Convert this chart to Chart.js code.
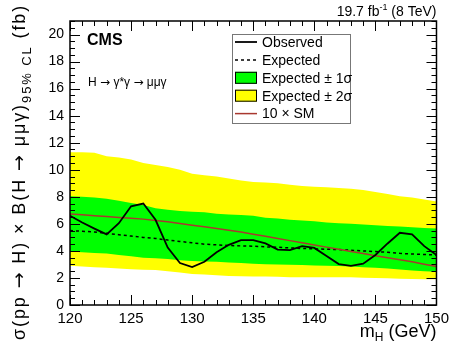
<!DOCTYPE html>
<html>
<head>
<meta charset="utf-8">
<script src="https://cdn.jsdelivr.net/npm/chart.js@4/dist/chart.umd.min.js"></script>
<style>
  html, body { margin: 0; padding: 0; background: #fff; }
  #wrap { width: 454px; height: 344px; position: relative; }
</style>
</head>
<body>
<div id="wrap"><canvas id="limitChart"></canvas></div>
<script>
// Higgs mass points (GeV)
const masses = [120,121,122,123,124,125,126,127,128,129,130,131,132,133,134,135,136,137,138,139,140,141,142,143,144,145,146,147,148,149,150];

// 95% CL limits (fb)
const observed = [6.6,6.1,5.65,5.22,6.05,7.3,7.5,6.3,4.25,3.1,2.8,3.2,3.9,4.45,4.8,4.8,4.55,4.1,4.06,4.35,4.22,3.62,3.03,2.9,3.05,3.7,4.55,5.34,5.22,4.35,3.69];
const expected = [5.5,5.45,5.4,5.3,5.2,5.1,5.0,4.92,4.8,4.7,4.6,4.5,4.45,4.4,4.37,4.35,4.3,4.27,4.22,4.18,4.15,4.12,4.1,4.05,4.0,3.95,3.9,3.82,3.77,3.73,3.7];
const oneSigmaUp = [8.04,8.0,7.95,7.85,7.7,7.55,7.4,7.15,7.05,6.95,6.9,6.85,6.75,6.7,6.65,6.6,6.45,6.4,6.3,6.25,6.2,6.1,6.05,6.0,5.95,5.9,5.85,5.8,5.75,5.7,5.65];
const oneSigmaDown = [3.95,3.9,3.85,3.8,3.7,3.6,3.5,3.45,3.4,3.3,3.25,3.22,3.2,3.15,3.1,3.05,3.02,3.0,2.97,2.95,2.92,2.9,2.88,2.85,2.8,2.75,2.7,2.62,2.55,2.5,2.46];
const twoSigmaUp = [11.3,11.3,11.25,11.0,10.9,10.75,10.5,10.35,10.2,10.0,9.7,9.6,9.5,9.35,9.2,9.1,9.05,9.0,8.9,8.8,8.75,8.7,8.65,8.6,8.5,8.35,8.2,8.05,7.95,7.8,7.65];
const twoSigmaDown = [2.9,2.85,2.8,2.75,2.7,2.65,2.6,2.58,2.5,2.4,2.3,2.25,2.2,2.15,2.12,2.1,2.1,2.08,2.06,2.05,2.05,2.05,2.05,2.05,2.02,2.0,1.98,1.95,1.93,1.9,1.9];
const tenTimesSM = [6.72,6.67,6.6,6.54,6.47,6.41,6.35,6.25,6.15,6.03,5.9,5.78,5.66,5.53,5.39,5.24,5.08,4.92,4.76,4.6,4.44,4.28,4.12,3.96,3.8,3.65,3.5,3.35,3.2,3.02,2.85];

const xTicks = [120, 125, 130, 135, 140, 145, 150];
const yTicks = [0, 2, 4, 6, 8, 10, 12, 14, 16, 18, 20];

const FONT = 'Liberation Sans, Arial, sans-serif';
const ARROW_FONT = 'DejaVu Sans, sans-serif';

function pts(vals) {
  return masses.map((m, i) => ({ x: m, y: vals[i] }));
}

// draw a run of text pieces, each with its own font / vertical shift
function richText(ctx, parts, x, y) {
  let pos = x;
  parts.forEach(p => {
    ctx.font = p.font;
    ctx.fillText(p.t, pos, y + (p.dy || 0));
    pos += ctx.measureText(p.t).width;
  });
  return pos - x;
}
function richWidth(ctx, parts) {
  let w = 0;
  parts.forEach(p => { ctx.font = p.font; w += ctx.measureText(p.t).width; });
  return w;
}

// ROOT-style frame with inward ticks on all four sides
const frameTicks = {
  id: 'frameTicks',
  afterDatasetsDraw(chart) {
    const { ctx, chartArea: a, scales: { x, y } } = chart;
    ctx.save();
    ctx.strokeStyle = '#000';
    ctx.lineWidth = 1;
    ctx.beginPath();
    for (let v = 120; v <= 150; v += 1) {
      const px = Math.round(x.getPixelForValue(v)) + 0.5;
      const len = v % 5 === 0 ? 10 : 5;
      ctx.moveTo(px, a.bottom); ctx.lineTo(px, a.bottom - len);
      ctx.moveTo(px, a.top); ctx.lineTo(px, a.top + len);
    }
    for (let v = 0; v <= 21; v += 0.5) {
      const py = Math.round(y.getPixelForValue(v)) + 0.5;
      const len = v % 2 === 0 ? 10 : 5;
      ctx.moveTo(a.left, py); ctx.lineTo(a.left + len, py);
      ctx.moveTo(a.right, py); ctx.lineTo(a.right - len, py);
    }
    ctx.stroke();
    ctx.lineWidth = 1.5;
    ctx.strokeRect(a.left, a.top, a.right - a.left, a.bottom - a.top);
    ctx.restore();
  }
};

// titles, CMS label, legend box
const annotations = {
  id: 'annotations',
  afterDraw(chart) {
    const { ctx, chartArea: a } = chart;
    ctx.save();
    ctx.fillStyle = '#000';
    ctx.textBaseline = 'alphabetic';
    ctx.textAlign = 'left';

    // top right luminosity
    const lumi = [
      { t: '19.7 fb', font: '14px ' + FONT },
      { t: '-1', font: '9px ' + FONT, dy: -6 },
      { t: ' (8 TeV)', font: '14px ' + FONT }
    ];
    richText(ctx, lumi, a.right - richWidth(ctx, lumi), 16);

    // CMS
    ctx.font = 'bold 16px ' + FONT;
    ctx.fillText('CMS', 87, 45);
    const proc = [
      { t: 'H ', font: '12px ' + FONT },
      { t: '\u2192', font: '12px ' + ARROW_FONT },
      { t: ' \u03b3*\u03b3 ', font: '12px ' + FONT },
      { t: '\u2192', font: '12px ' + ARROW_FONT },
      { t: ' \u03bc\u03bc\u03b3', font: '12px ' + FONT }
    ];
    richText(ctx, proc, 88, 86);

    // x axis title m_H (GeV)
    const xt = [
      { t: 'm', font: '18px ' + FONT },
      { t: 'H', font: '12px ' + FONT, dy: 4 },
      { t: ' (GeV)', font: '18px ' + FONT }
    ];
    richText(ctx, xt, a.right - richWidth(ctx, xt), 337);

    // y axis title, rotated; spread out to span the full height like the original
    ctx.save();
    ctx.translate(25, 0);
    ctx.rotate(-Math.PI / 2);
    const big = '18px ' + FONT, arr = '19px ' + ARROW_FONT;
    const yt = [
      { t: '\u03c3(pp ', font: big },
      { t: '\u2192', font: arr },
      { t: ' H) \u00d7 B(H ', font: big },
      { t: '\u2192', font: arr },
      { t: ' \u03bc\u03bc\u03b3)', font: big },
      { t: '95% CL', font: '13px ' + FONT, dy: 6 },
      { t: ' (fb)', font: big }
    ];
    const nChars = yt.reduce((n, p) => n + p.t.length, 0);
    const natural = richWidth(ctx, yt);
    const spacing = Math.max(0, (336 - natural) / nChars);
    ctx.letterSpacing = spacing.toFixed(2) + 'px';
    richText(ctx, yt, -340, 0);
    ctx.letterSpacing = '0px';
    ctx.restore();

    // legend
    const lx = 232, ly = 34, lw = 118, lh = 89;
    ctx.fillStyle = '#fff';
    ctx.fillRect(lx, ly, lw, lh);
    ctx.strokeStyle = '#777';
    ctx.lineWidth = 1;
    ctx.strokeRect(lx + 0.5, ly + 0.5, lw, lh);
    const ds = chart.data.datasets;
    const entries = [
      { d: ds[6], kind: 'line', text: 'Observed' },
      { d: ds[4], kind: 'line', text: 'Expected' },
      { d: ds[2], kind: 'box', text: 'Expected \u00b1 1\u03c3' },
      { d: ds[0], kind: 'box', text: 'Expected \u00b1 2\u03c3' },
      { d: ds[5], kind: 'line', text: '10 \u00d7 SM' }
    ];
    ctx.font = '14px ' + FONT;
    ctx.textBaseline = 'middle';
    entries.forEach((e, i) => {
      const cy = 42 + i * 17.9;
      if (e.kind === 'line') {
        ctx.strokeStyle = e.d.borderColor;
        ctx.lineWidth = e.d.borderWidth;
        ctx.setLineDash(e.d.borderDash || []);
        ctx.beginPath();
        ctx.moveTo(235, cy); ctx.lineTo(257, cy);
        ctx.stroke();
        ctx.setLineDash([]);
      } else {
        ctx.fillStyle = e.d.backgroundColor;
        ctx.fillRect(235, cy - 6, 22, 12);
        ctx.strokeStyle = '#000';
        ctx.lineWidth = 1;
        ctx.strokeRect(235.5, cy - 5.5, 21, 11);
      }
      ctx.fillStyle = '#000';
      ctx.font = '14px ' + FONT;
      ctx.fillText(e.text, 262, cy + 1);
    });
    ctx.restore();
  }
};

new Chart(document.getElementById('limitChart'), {
  type: 'line',
  data: {
    datasets: [
      { label: '+2 sigma', data: pts(twoSigmaUp), backgroundColor: '#ffff00', borderWidth: 0, fill: 1, order: 10 },
      { label: '-2 sigma', data: pts(twoSigmaDown), borderWidth: 0, fill: false, order: 11 },
      { label: '+1 sigma', data: pts(oneSigmaUp), backgroundColor: '#00ff00', borderWidth: 0, fill: 3, order: 8 },
      { label: '-1 sigma', data: pts(oneSigmaDown), borderWidth: 0, fill: false, order: 9 },
      { label: 'Expected', data: pts(expected), borderColor: '#000', borderWidth: 1.5, borderDash: [3, 3], fill: false, order: 3 },
      { label: '10 x SM', data: pts(tenTimesSM), borderColor: '#a8382f', borderWidth: 1.5, fill: false, order: 2 },
      { label: 'Observed', data: pts(observed), borderColor: '#000', borderWidth: 1.8, fill: false, order: 1 }
    ]
  },
  options: {
    responsive: true,
    maintainAspectRatio: false,
    animation: false,
    events: [],
    elements: { point: { radius: 0 }, line: { tension: 0 } },
    layout: { padding: { left: 0, right: 14, top: 21, bottom: 0 } },
    scales: {
      x: {
        type: 'linear',
        min: 120, max: 150,
        grid: { display: false, drawTicks: false },
        border: { display: false },
        afterFit(s) { s.height = 39; },
        afterBuildTicks(s) { s.ticks = xTicks.map(v => ({ value: v })); },
        ticks: { font: { family: FONT, size: 15 }, color: '#000', padding: 5, maxRotation: 0 }
      },
      y: {
        type: 'linear',
        min: 0, max: 21,
        grid: { display: false, drawTicks: false },
        border: { display: false },
        afterFit(s) { s.width = 70; },
        afterBuildTicks(s) { s.ticks = yTicks.map(v => ({ value: v })); },
        ticks: { font: { family: FONT, size: 14 }, color: '#000', padding: 6 }
      }
    },
    plugins: { legend: { display: false }, tooltip: { enabled: false } }
  },
  plugins: [frameTicks, annotations]
});
</script>
</body>
</html>
